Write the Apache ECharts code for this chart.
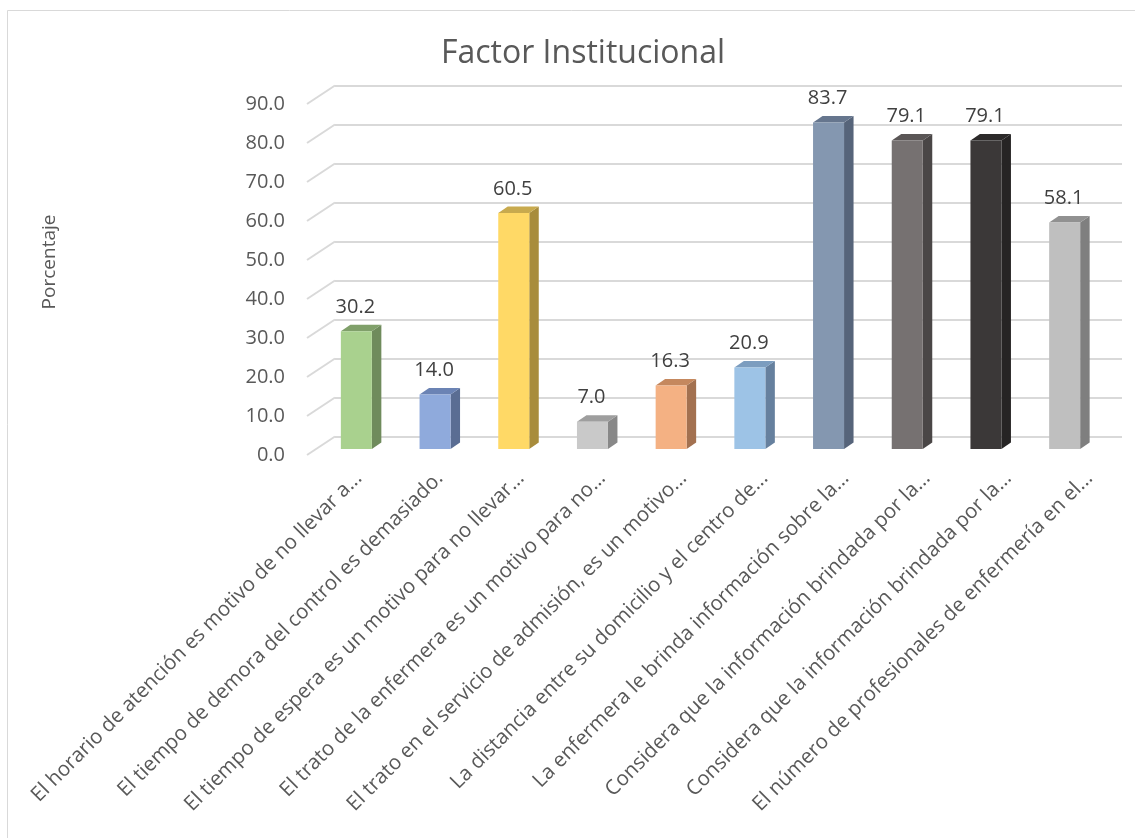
<!DOCTYPE html>
<html>
<head>
<meta charset="utf-8">
<script src="https://cdn.jsdelivr.net/npm/echarts@6/dist/echarts.min.js"></script>
<style>
html,body{margin:0;padding:0;background:#fff;}
#chart{width:1135px;height:838px;}
</style>
</head>
<body>
<div id="chart"></div>
<script>
const categories = [
  "El horario de atención es motivo de no llevar a...",
  "El tiempo de demora del control es demasiado.",
  "El tiempo de espera es un motivo para no llevar...",
  "El trato de la enfermera es un motivo para no...",
  "El trato en el servicio de admisión, es un motivo...",
  "La distancia entre su domicilio y el centro de...",
  "La enfermera le brinda información sobre la...",
  "Considera que la información brindada por la...",
  "Considera que la información brindada por la...",
  "El número de profesionales de enfermería en el..."
];
const values = [30.2, 14.0, 60.5, 7.0, 16.3, 20.9, 83.7, 79.1, 79.1, 58.1];
const yTicks = [0, 10, 20, 30, 40, 50, 60, 70, 80, 90];
const frontColors = ["#a9d18e", "#8faadc", "#ffd966", "#c9c9c9", "#f4b183", "#9dc3e6", "#8497b0", "#767171", "#3b3838", "#bfbfbf"];
const sideColors  = ["#6f8b5c", "#5a6d93", "#a88c3c", "#888888", "#a37150", "#66809e", "#56647a", "#4a4646", "#262424", "#7f7f7f"];
const topColors   = ["#80a06a", "#6b83b4", "#c8aa4e", "#9e9e9e", "#c5885e", "#7c9dbf", "#66768e", "#5a5656", "#2c2a2a", "#919191"];

const FONT = "Open Sans";
const GRID_W = 787;
const DEPTH_X = 28, DEPTH_Y = 18.5;   // front plane -> back plane
const BAR_W = 31, BAR_DX = 9.5, BAR_DY = 6.5;

const chart = echarts.init(document.getElementById('chart'));

const hiddenCat = (gi) => ({type:'category', gridIndex: gi, data: categories, show: false, boundaryGap: true});
const hiddenVal = (gi) => ({type:'value', gridIndex: gi, min: 0, max: 90, interval: 10, show: false});

chart.setOption({
  animation: false,
  backgroundColor: '#ffffff',
  title: {
    text: 'Factor Institucional',
    left: 578, top: 33, textAlign: 'center',
    textStyle: {fontFamily: FONT, fontSize: 32, fontWeight: 'normal', color: '#595959'}
  },
  graphic: [{
    type: 'rect', silent: true, z: -10,
    shape: {x: 7.5, y: 10.5, width: 1200, height: 900},
    style: {fill: 'none', stroke: '#d9d9d9', lineWidth: 1}
  }, {
    type: 'text', silent: true, x: 50, y: 262, rotation: Math.PI / 2,
    style: {text: 'Porcentaje', fontFamily: FONT, fontSize: 19, fill: '#595959',
            align: 'center', verticalAlign: 'middle'}
  }],
  grid: [
    {left: 307, top: 104, width: GRID_W, height: 351},    // front plane (tick labels)
    {left: 335, top: 86, width: GRID_W, height: 351},     // back plane (gridlines)
    {left: 317, top: 98, width: GRID_W, height: 351},     // bar plane
    {left: 318, top: 100, width: 812, height: 363}        // category labels
  ],
  xAxis: [
    hiddenCat(0), hiddenCat(1), hiddenCat(2),
    {type:'category', gridIndex: 3, data: categories, boundaryGap: true,
     axisLine:{show:false}, axisTick:{show:false},
     axisLabel:{interval: 0, rotate: 45, margin: 12, fontFamily: FONT, fontSize: 20.5, color: '#595959'}}
  ],
  yAxis: [
    {type:'value', gridIndex: 0, min: 0, max: 90, interval: 10,
     axisLine:{show:false}, axisTick:{show:false}, splitLine:{show:false},
     axisLabel:{margin: 22, fontFamily: FONT, fontSize: 20, color: '#595959',
                formatter: (v) => v.toFixed(1)}},
    {type:'value', gridIndex: 1, min: 0, max: 90, interval: 10,
     axisLine:{show:false}, axisTick:{show:false}, axisLabel:{show:false},
     splitLine:{show:true, lineStyle:{color:'#d9d9d9', width: 2}}},
    hiddenVal(2), hiddenVal(3)
  ],
  series: [
    {
      type: 'custom', xAxisIndex: 0, yAxisIndex: 0, silent: true, z: 1,
      data: yTicks.map(v => [0, v]),
      renderItem: (params, api) => {
        const p = api.coord([0, api.value(1)]);
        const band = api.size([1, 0])[0];
        const x = p[0] - band / 2;
        return {
          type: 'line',
          shape: {x1: x, y1: p[1], x2: x + DEPTH_X, y2: p[1] - DEPTH_Y},
          style: {stroke: '#d9d9d9', lineWidth: 2}
        };
      }
    },
    {
      type: 'custom', xAxisIndex: 2, yAxisIndex: 2, silent: true, z: 5,
      data: values.map((v, i) => [i, v]),
      renderItem: (params, api) => {
        const i = api.value(0), v = api.value(1);
        const b = api.coord([i, 0]);
        const t = api.coord([i, v]);
        const x0 = b[0] - BAR_W / 2, x1 = b[0] + BAR_W / 2;
        const yb = b[1], yt = t[1];
        return {
          type: 'group',
          children: [
            {type: 'polygon', shape: {points: [[x1, yt], [x1 + BAR_DX, yt - BAR_DY], [x1 + BAR_DX, yb - BAR_DY], [x1, yb]]},
             style: {fill: sideColors[i]}},
            {type: 'polygon', shape: {points: [[x0, yt], [x1, yt], [x1 + BAR_DX, yt - BAR_DY], [x0 + BAR_DX, yt - BAR_DY]]},
             style: {fill: topColors[i]}},
            {type: 'rect', shape: {x: x0, y: yt, width: BAR_W, height: yb - yt},
             style: {fill: frontColors[i]}},
            {type: 'text', x: b[0] - 1, y: yt - 24,
             style: {text: v.toFixed(1), fontFamily: FONT, fontSize: 20, fill: '#404040',
                     align: 'center', verticalAlign: 'middle'}}
          ]
        };
      }
    }
  ]
});
</script>
</body>
</html>
